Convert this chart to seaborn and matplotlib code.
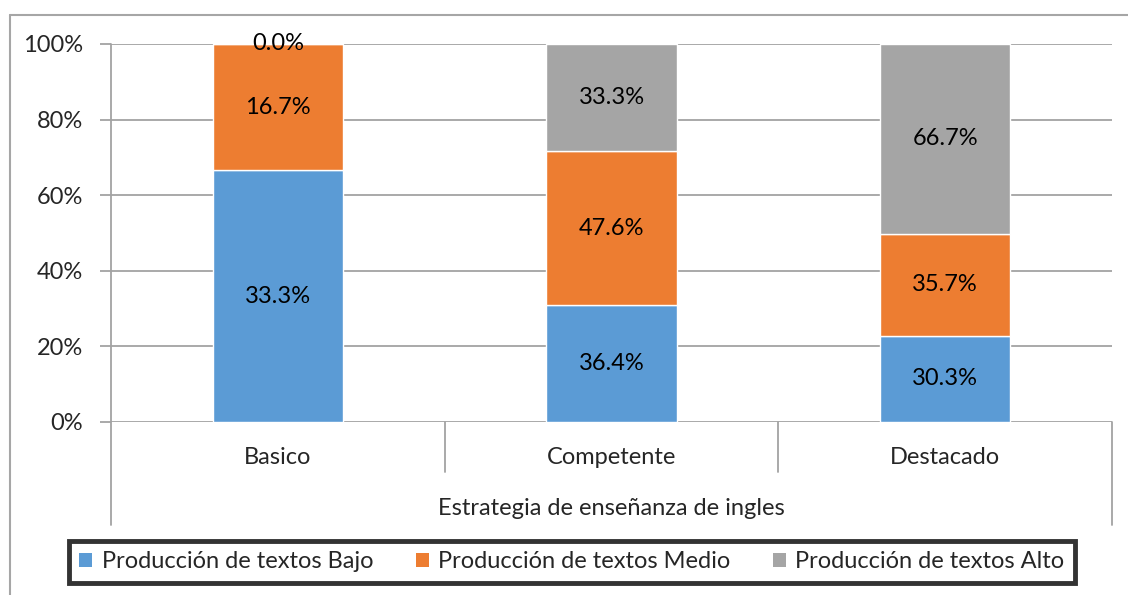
import numpy as np
import pandas as pd
import matplotlib
matplotlib.use("Agg")
import matplotlib.pyplot as plt
from matplotlib.lines import Line2D
from matplotlib.patches import Patch
import seaborn as sns

categories = ["Basico", "Competente", "Destacado"]
series = ["Producción de textos Bajo", "Producción de textos Medio", "Producción de textos Alto"]
bajo = [33.3, 36.4, 30.3]
medio = [16.7, 47.6, 35.7]
alto = [0.0, 33.3, 66.7]
colors = ["#5B9BD5", "#ED7D31", "#A5A5A5"]
yticks = [0, 20, 40, 60, 80, 100]

df = pd.DataFrame({"cat": categories, "Bajo": bajo, "Medio": medio, "Alto": alto})
layers = ["Bajo", "Medio", "Alto"]
totals = df[layers].sum(axis=1)
shares = df[layers].div(totals, axis=0) * 100

sns.set_style("white")
plt.rcParams["font.family"] = ["Lato", "DejaVu Sans"]
fs = 17

fig = plt.figure(figsize=(11.28, 5.95), dpi=100)
W, H = 1128, 595
ax = fig.add_axes([111 / W, 1 - 422 / H, (1112 - 111) / W, (422 - 44) / H])

grid_c = "#A3A3A3"
for t in yticks:
    ax.axhline(t, color=grid_c, lw=1.3, zorder=0)

bottom = np.zeros(len(categories))
for name, col in zip(layers, colors):
    sns.barplot(x=df["cat"], y=shares[name], bottom=bottom, color=col, saturation=1,
                width=0.39, edgecolor="white", linewidth=1, ax=ax, zorder=2)
    for i, (h, v) in enumerate(zip(shares[name], df[name])):
        ax.text(i, bottom[i] + h / 2, f"{v:.1f}%", ha="center", va="center",
                fontsize=fs, color="black", zorder=3)
    bottom += shares[name].values

ax.set_xlim(-0.5, 2.5)
ax.set_ylim(0, 100)
ax.set_yticks(yticks)
ax.set_yticklabels([f"{t}%" for t in yticks], fontsize=fs)
ax.set_ylabel("")
ax.tick_params(axis="y", length=8, width=1.3, color=grid_c, pad=12, direction="out", left=True)
ax.tick_params(axis="x", length=0, pad=18, labelsize=fs)
for s in ax.spines.values():
    s.set_visible(False)

ax.set_xlabel("Estrategia de enseñanza de ingles", fontsize=fs)
ax.xaxis.set_label_coords(0.5, -0.23)
ax.xaxis.label.set_va("center")

# category separators and left axis line
tr = ax.get_xaxis_transform()
for xv, ylow in [(-0.5, -0.273), (0.5, -0.132), (1.5, -0.132), (2.5, -0.273)]:
    top = 1.0 if xv == -0.5 else 0.0
    ax.plot([xv, xv], [ylow, top], transform=tr, color=grid_c, lw=1.3, clip_on=False, zorder=1)

# outer chart frame (clipped at right and bottom)
fig.add_artist(Line2D([10 / W, 1.0], [1 - 15 / H, 1 - 15 / H], color="#A6A6A6", lw=1.5))
fig.add_artist(Line2D([10 / W, 10 / W], [0, 1 - 15 / H], color="#A6A6A6", lw=1.5))

handles = [Patch(facecolor=c, edgecolor="none") for c in colors]
leg = fig.legend(handles, series, loc="center", bbox_to_anchor=(572 / W, 1 - 562 / H),
                 ncol=3, fontsize=fs, frameon=True, fancybox=False, edgecolor="black",
                 handlelength=0.55, handleheight=0.55, handletextpad=0.4, columnspacing=1.8,
                 borderpad=0.45)
leg.get_frame().set_linewidth(3.5)

fig.savefig("out.png", dpi=100)
